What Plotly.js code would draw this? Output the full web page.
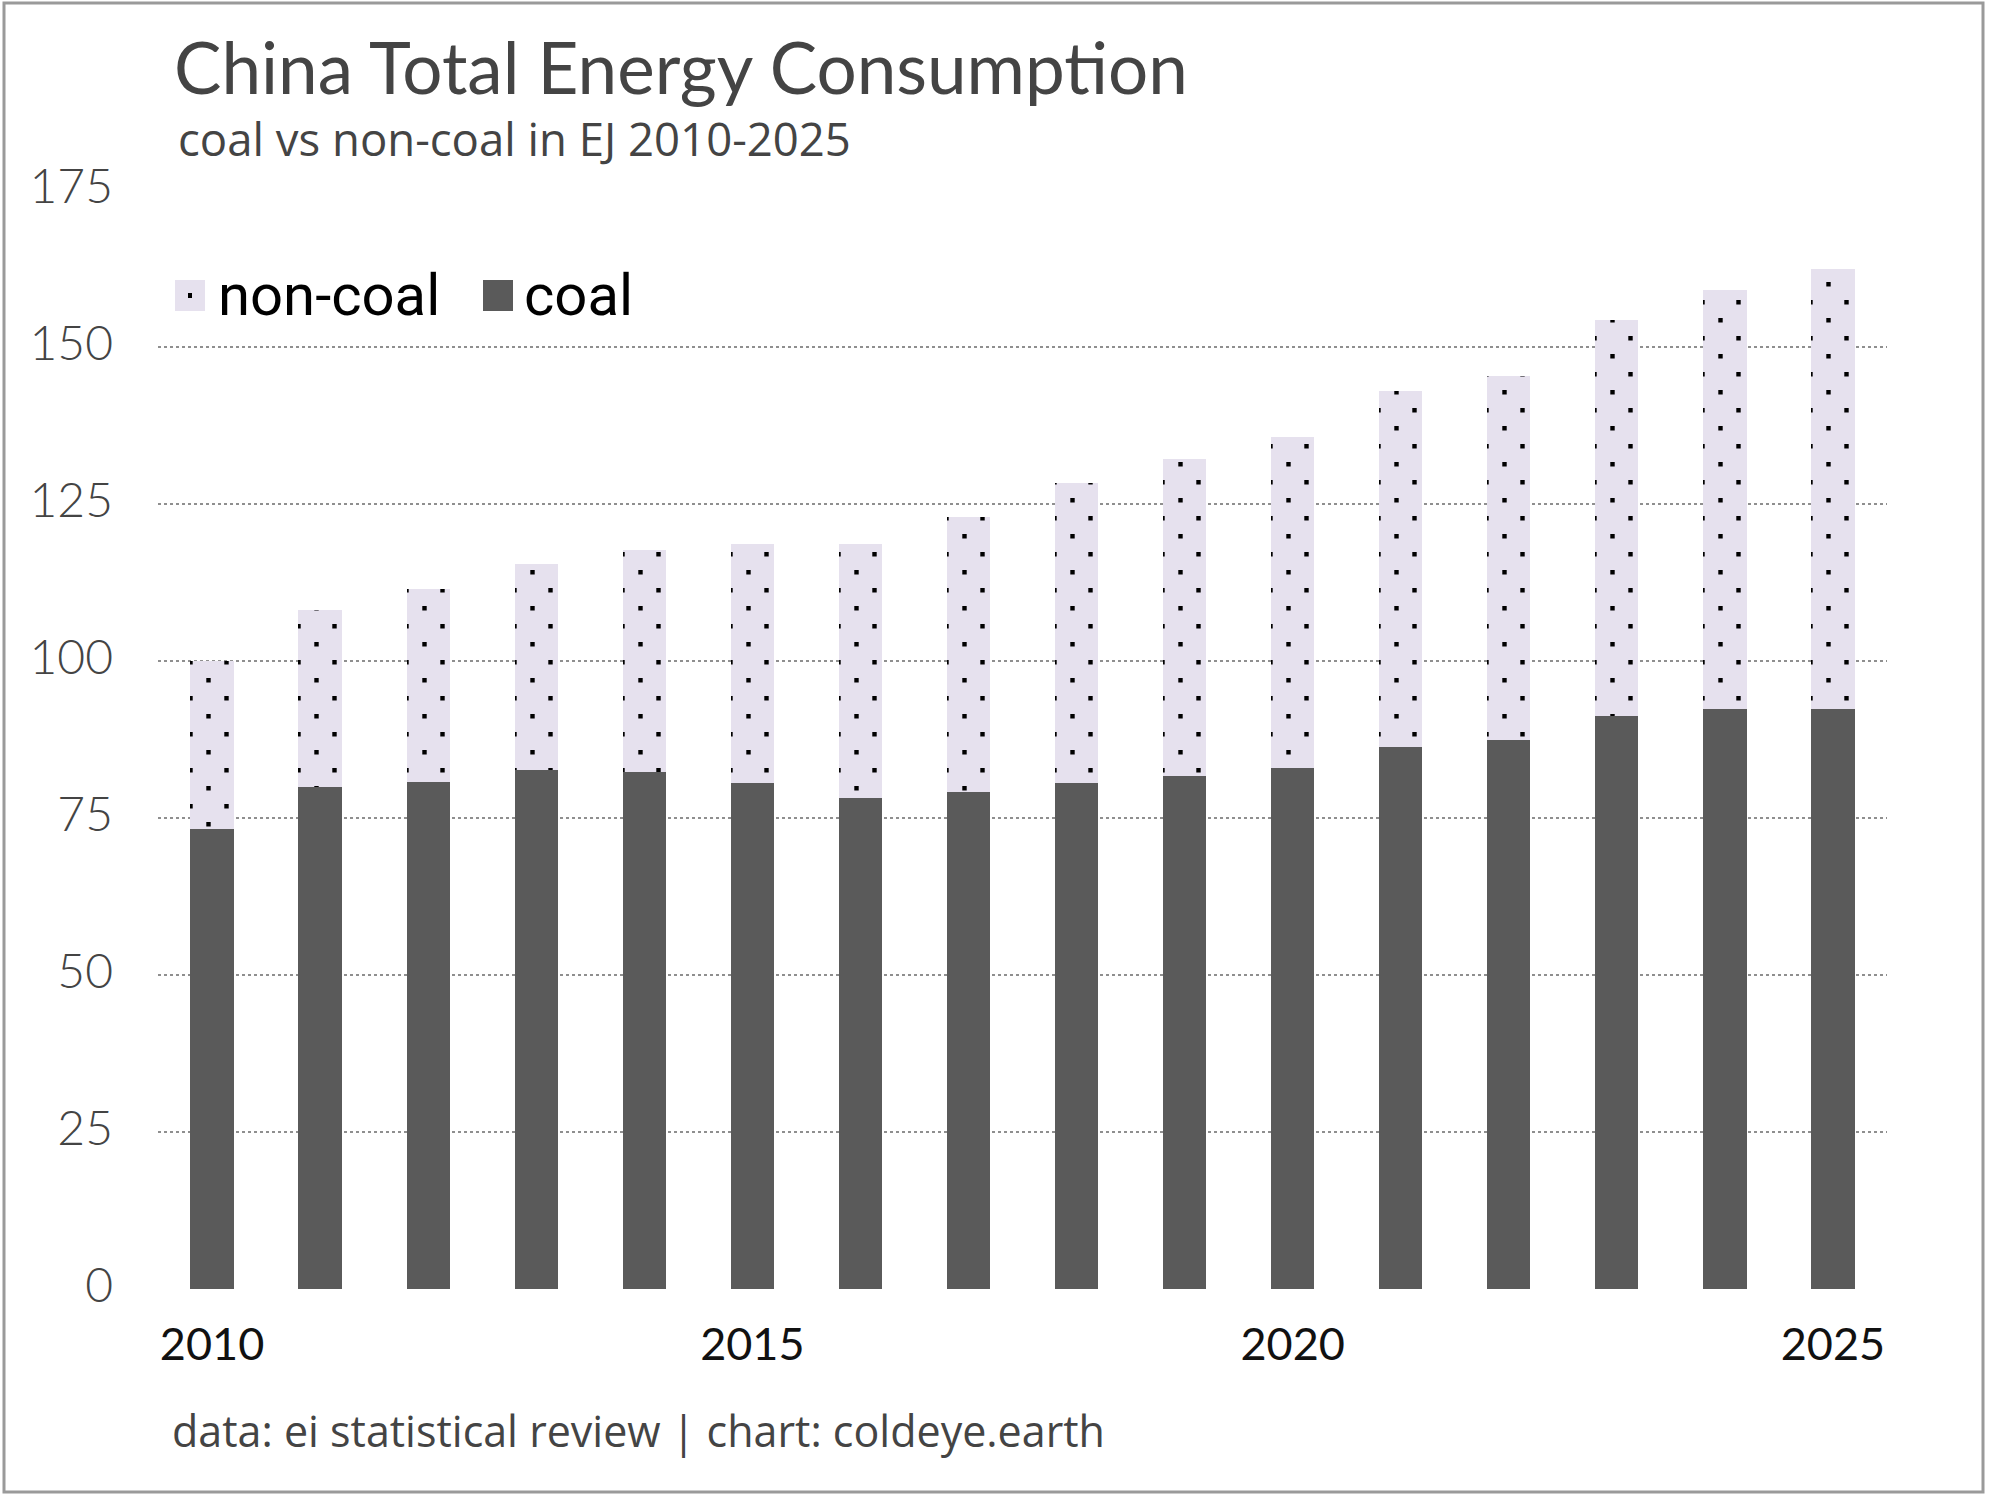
<!DOCTYPE html>
<html>
<head>
<meta charset="utf-8">
<script src="https://cdn.plot.ly/plotly-3.0.1.min.js"></script>
<style>
  body { margin: 0; background: #fff; }
  #chart { width: 1993px; height: 1494px; }
</style>
</head>
<body>
<div id="chart"></div>
<script>
// values (EJ)
const years = [2010, 2011, 2012, 2013, 2014, 2015, 2016, 2017,
               2018, 2019, 2020, 2021, 2022, 2023, 2024, 2025];
const coal = [73.3, 79.9, 80.8, 82.6, 82.3, 80.6, 78.2, 79.1,
              80.5, 81.7, 83.0, 86.3, 87.5, 91.3, 92.4, 92.4];
const nonCoal = [26.7, 28.3, 30.7, 32.9, 35.3, 38.0, 40.4, 43.8,
                 47.9, 50.5, 52.7, 56.7, 57.9, 63.0, 66.7, 70.0];
const yTicks = [0, 25, 50, 75, 100, 125, 150, 175];
const xTicks = [2010, 2015, 2020, 2025];

const W = 1993, H = 1494;
const M = {l: 158, r: 106, t: 190, b: 205};
const plotW = W - M.l - M.r;
const plotH = H - M.t - M.b;
// page pixels -> paper fractions
const px = x => (x - M.l) / plotW;
const py = y => (H - M.b - y) / plotH;

const COAL = '#5a5a5a';
const LAV = '#e6e1ee';

// staggered dots: two small squares per 36px tile
const dotPath = 'M12.3,20h4.4v4.4h-4.4z M30.3,2h4.4v4.4h-4.4z';

const traces = [
  {
    type: 'bar',
    name: 'coal',
    x: years,
    y: coal,
    width: 0.4,
    marker: {color: COAL, line: {width: 0}},
    hoverinfo: 'x+y+name'
  },
  {
    type: 'bar',
    name: 'non-coal',
    x: years,
    y: nonCoal,
    width: 0.4,
    marker: {
      color: LAV,
      line: {width: 0},
      pattern: {path: dotPath, fgcolor: '#000', bgcolor: LAV, size: 36, fillmode: 'replace'}
    },
    hoverinfo: 'x+y+name'
  }
];

function label(text, x, y, size, color, family) {
  return {
    text: text, xref: 'paper', yref: 'paper', x: px(x), y: py(y),
    xanchor: 'left', yanchor: 'middle', showarrow: false,
    font: {family: family || 'Lato, sans-serif', size: size, color: color}
  };
}

const layout = {
  width: W,
  height: H,
  margin: M,
  paper_bgcolor: '#fff',
  plot_bgcolor: '#fff',
  barmode: 'stack',
  showlegend: false,
  title: {text: ''},
  xaxis: {
    range: [2009.5, 2025.5],
    tickvals: xTicks,
    ticktext: xTicks.map(String),
    showgrid: false,
    zeroline: false,
    showline: false,
    ticks: '',
    ticklabelstandoff: 25,
    tickfont: {family: 'Lato, sans-serif', size: 45, color: '#111'}
  },
  yaxis: {
    range: [0, 175],
    tickvals: yTicks,
    showgrid: true,
    gridcolor: '#8f8f8f',
    gridwidth: 1.5,
    griddash: 'dot',
    zeroline: true,
    zerolinecolor: 'rgba(0,0,0,0)',
    showline: false,
    ticks: '',
    ticklabelstandoff: 44,
    ticklabelshift: -4,
    tickfont: {family: 'Lato, sans-serif', size: 48, color: '#444', weight: 300}
  },
  shapes: [
    // outer frame
    {type: 'rect', xref: 'paper', yref: 'paper',
     x0: px(4), x1: px(1983), y0: py(3), y1: py(1492),
     line: {color: '#9a9a9a', width: 3}},
    // legend swatches
    {type: 'rect', xref: 'paper', yref: 'paper',
     x0: px(175), x1: px(205), y0: py(280), y1: py(311),
     fillcolor: LAV, line: {width: 0}},
    {type: 'rect', xref: 'paper', yref: 'paper',
     x0: px(188), x1: px(192), y0: py(293), y1: py(298),
     fillcolor: '#000', line: {width: 0}},
    {type: 'rect', xref: 'paper', yref: 'paper',
     x0: px(483), x1: px(513), y0: py(280), y1: py(311),
     fillcolor: COAL, line: {width: 0}}
  ],
  annotations: [
    label('China Total Energy Consumption', 172, 67, 71, '#444'),
    label('coal vs non-coal in EJ 2010-2025', 176, 138, 45.5, '#444', '"Open Sans", sans-serif'),
    label('non-coal', 216, 295, 58, '#000', 'Roboto, sans-serif'),
    label('coal', 522, 295, 58, '#000', 'Roboto, sans-serif'),
    label('data: ei statistical review | chart: coldeye.earth', 170, 1430, 43, '#444', '"Open Sans", sans-serif')
  ]
};

Plotly.newPlot('chart', traces, layout, {displayModeBar: false, staticPlot: true});
</script>
</body>
</html>
